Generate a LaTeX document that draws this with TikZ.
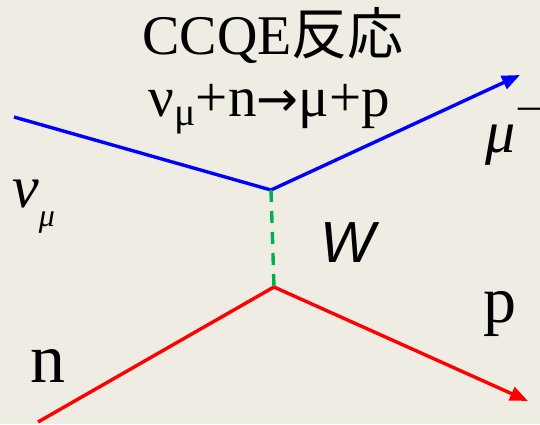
\documentclass[tikz,border=0pt]{standalone}
\usepackage{fontspec}
\setmainfont{Liberation Serif}
\newfontfamily\cjk{Noto Sans CJK JP}
\newfontfamily\wfont{Liberation Sans}
\newfontfamily\arrfont{DejaVu Sans}
\usetikzlibrary{arrows.meta}
\definecolor{paper}{RGB}{239,236,228}
\definecolor{wgreen}{RGB}{0,176,80}
\begin{document}
\begin{tikzpicture}[x=1pt, y=-1pt,
  lepton/.style={draw=blue, line width=3.4pt},
  nucleon/.style={draw=red, line width=3.4pt},
  boson/.style={draw=wgreen, line width=3.4pt, dash pattern=on 12pt off 9pt},
  tip/.style={-{Triangle[length=18pt, width=14pt]}},
  lbl/.style={inner sep=0pt, anchor=base west}
]
\fill[paper] (0,0) rectangle (540,424);
\useasboundingbox (0,0) rectangle (540,424);

% vertices and free ends
\coordinate (nuin) at (14,117);
\coordinate (vtop) at (271,190);
\coordinate (muout) at (520,75);
\coordinate (nin) at (38,422);
\coordinate (vbot) at (274,287);
\coordinate (pout) at (528,401);

\draw[lepton] (nuin) -- (vtop);
\draw[lepton, tip] (vtop) -- (muout);
\draw[nucleon] (nin) -- (vbot);
\draw[nucleon, tip] (vbot) -- (pout);
\draw[boson] (vtop) -- (vbot);

% texts
\node[inner sep=0pt, anchor=base] (title) at (273,54)
  {\fontsize{56}{56}\selectfont CCQE{\cjk 反応}};
\node[inner sep=0pt, anchor=base] (reac) at (269,116)
  {\fontsize{57}{57}\selectfont ν\textsubscript{μ}+n{\arrfont\fontsize{50}{50}\selectfont →}μ+p};
\node[lbl] (nulbl) at (12,207)
  {\fontsize{60}{60}\selectfont\itshape ν\raisebox{-0.33em}{\fontsize{32}{32}\selectfont μ}};
\node[lbl] (mulbl) at (485,152)
  {\fontsize{60}{60}\selectfont\itshape μ\kern3pt\raisebox{0.55em}{\upshape\fontsize{44}{44}\selectfont –}};
\node[lbl] (wlbl) at (320,262) {\wfont\itshape\fontsize{58}{58}\selectfont W};
\node[lbl] (plbl) at (483,322) {\fontsize{66}{66}\selectfont p};
\node[lbl] (nlbl) at (30,382) {\fontsize{70}{70}\selectfont n};
\end{tikzpicture}
\end{document}
